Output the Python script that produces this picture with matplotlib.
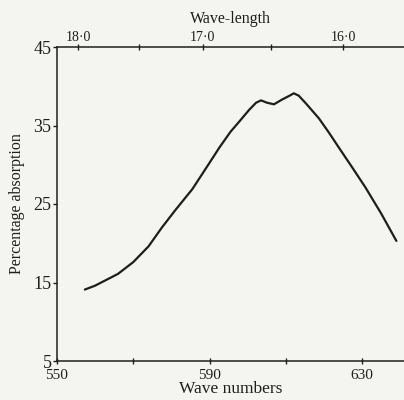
import matplotlib
matplotlib.use('Agg')
import matplotlib.pyplot as plt
from matplotlib.ticker import FixedLocator, FixedFormatter

# Absorption curve
wave_numbers = [557.3, 560.0, 562.0, 566.0, 570.0, 574.0, 577.5, 581.0, 585.5, 589.0,
                592.6, 595.5, 597.8, 600.4, 602.2, 603.5, 605.1, 606.9, 609.0,
                611.0, 612.1, 613.4, 615.3, 618.7, 621.3, 623.9, 627.5, 630.9,
                635.0, 639.0]
absorption = [14.1, 14.6, 15.1, 16.1, 17.6, 19.6, 22.0, 24.2, 26.9, 29.5,
              32.2, 34.2, 35.5, 37.0, 37.9, 38.2, 37.9, 37.7, 38.3,
              38.8, 39.1, 38.8, 37.8, 35.9, 34.1, 32.2, 29.6, 27.1,
              23.8, 20.3]

x_major = [550, 590, 630]
x_minor = [570, 610]
y_ticks = [5, 15, 25, 35, 45]
wl_major = [18.0, 17.0, 16.0]
wl_major_labels = ['18·0', '17·0', '16·0']
wl_minor = [17.5, 16.5]

plt.rcParams['font.family'] = ['Liberation Serif', 'DejaVu Serif']
ink = '#1e1e1e'
paper = '#f4f4f1'

fig = plt.figure(figsize=(4.04, 4.0), dpi=100, facecolor=paper)
ax = fig.add_axes([57 / 404, 39 / 400, 1 - 57 / 404, (361 - 47) / 400])
ax.set_facecolor(paper)

ax.plot(wave_numbers, absorption, color=ink, lw=1.6, solid_capstyle='round',
        solid_joinstyle='round')

ax.set_xlim(550, 641)
ax.set_ylim(5, 45)
ax.spines['right'].set_visible(False)
for s in ['left', 'bottom', 'top']:
    ax.spines[s].set_color(ink)
    ax.spines[s].set_linewidth(1.1)

ax.xaxis.set_major_locator(FixedLocator(x_major))
ax.xaxis.set_minor_locator(FixedLocator(x_minor))
ax.set_yticks(y_ticks)
ax.tick_params(axis='x', which='both', direction='inout', length=4, width=1,
               colors=ink, labelsize=11, pad=4)
ax.tick_params(axis='y', direction='out', length=3, width=1, colors=ink,
               labelsize=13, pad=1)
ax.set_xlabel('Wave numbers', fontsize=12.5, color=ink, labelpad=-1)
ax.set_ylabel('Percentage absorption', fontsize=11.5, color=ink, labelpad=6)

top = ax.secondary_xaxis('top', functions=(lambda v: 10000.0 / v, lambda v: 10000.0 / v))
top.xaxis.set_major_locator(FixedLocator(wl_major))
top.xaxis.set_major_formatter(FixedFormatter(wl_major_labels))
top.xaxis.set_minor_locator(FixedLocator(wl_minor))
top.tick_params(axis='x', which='both', direction='inout', length=4, width=1,
                colors=ink, labelsize=10, pad=0)
top.spines['top'].set_visible(False)
top.set_xlabel('Wave-length', fontsize=11.5, color=ink, labelpad=6)

fig.savefig('out.png', dpi=100, facecolor=paper)
